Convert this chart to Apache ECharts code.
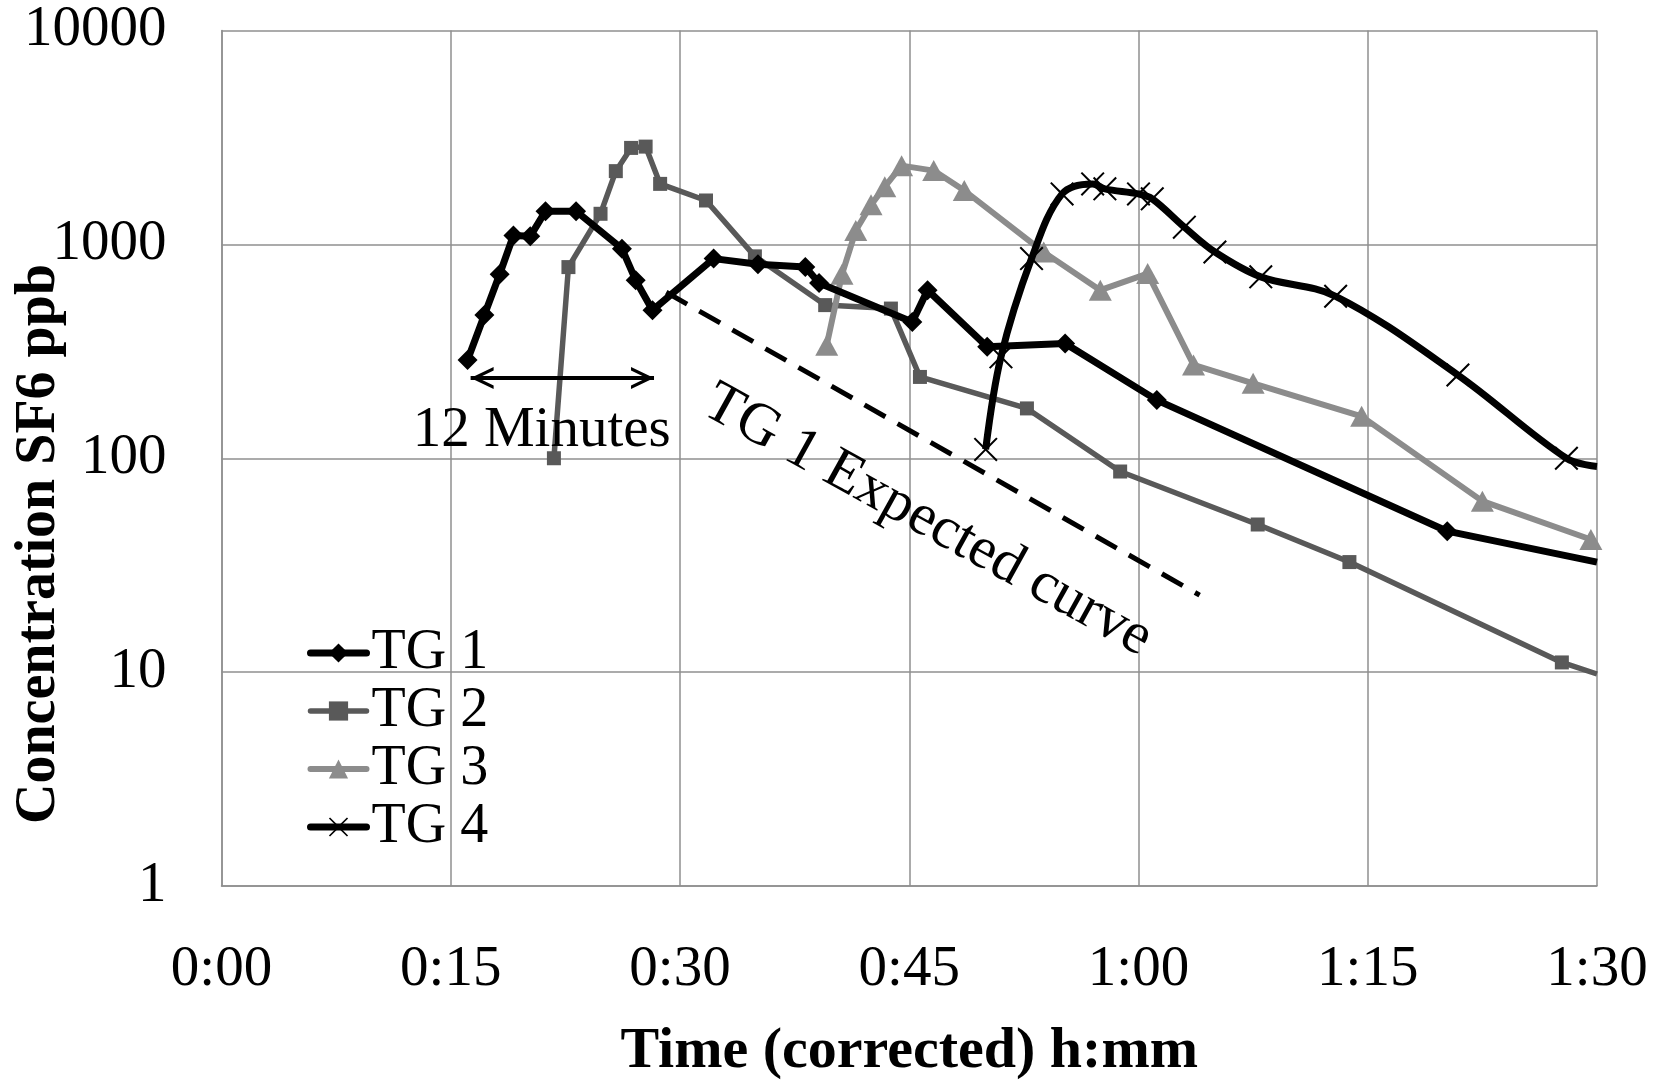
<!DOCTYPE html>
<html>
<head>
<meta charset="utf-8">
<title>SF6 tracer gas concentration</title>
<script src="https://cdn.jsdelivr.net/npm/echarts@6/dist/echarts.min.js"></script>
<style>
  html, body { margin: 0; padding: 0; background: #fff; }
  #chart { width: 1662px; height: 1082px; }
</style>
</head>
<body>
<div id="chart"></div>
<script>
// time in minutes after release, concentration in ppb
var tg1Time = [16.1, 17.2, 18.2, 19.1, 20.2, 21.2, 23.2, 26.2, 27.1, 28.2, 32.2, 35.1, 38.2, 39.1, 45.2, 46.2, 50.1, 55.2, 61.2, 80.2, 90];
var tg1Ppb  = [288, 467, 725, 1100, 1090, 1430, 1430, 955, 680, 492, 858, 807, 784, 660, 434, 611, 332, 344, 187, 45.6, 32.7];

var tg2Time = [21.75, 22.7, 24.8, 25.8, 26.8, 27.75, 28.7, 31.7, 34.9, 39.5, 43.8, 45.7, 52.7, 58.8, 67.8, 73.8, 87.7, 90];
var tg2Ppb  = [100, 783, 1390, 2200, 2825, 2865, 1918, 1604, 879, 520, 501, 240, 171, 86.7, 49, 32.7, 11.1, 9.8];

var tg3Time = [39.6, 40.6, 41.5, 42.5, 43.4, 44.5, 46.6, 48.6, 53.8, 57.5, 60.6, 63.6, 67.5, 74.6, 82.5, 89.6];
var tg3Ppb  = [338, 725, 1160, 1530, 1860, 2334, 2213, 1786, 920, 611, 730, 273, 224, 157, 63, 41.7];

var tg4Time = [50, 51, 53, 55, 57, 57.8, 60, 60.9, 63, 65, 68, 72.9, 80.9, 88, 90];
var tg4Ppb  = [110, 298, 858, 1722, 1918, 1818, 1722, 1633, 1204, 921, 705, 572, 245, 100, 91.6];

// TG 1 expected decay (dashed)
var expTime = [29.1, 64];
var expPpb  = [597, 22.9];

// "12 Minutes" arrow
var arrowTime = [16.3, 28.3];
var arrowPpb  = [237, 237];

// annotation anchors [minutes, ppb]
var minutesNote = [20.95, 134];
var expectedNote = [46.2, 51];

var yTicks = [1, 10, 100, 1000, 10000];

var FONT = '"Liberation Serif", "Times New Roman", serif';
var X_MAX = 90;

function pairs(t, v) {
    return t.map(function (x, i) {
        var item = { value: [x, v[i]] };
        if (x >= X_MAX) item.symbol = 'none';   // line runs off the plot edge
        return item;
    });
}

function hmm(v) {
    var m = v % 60;
    return Math.floor(v / 60) + ':' + (m < 10 ? '0' : '') + m;
}

var crossPath = 'path://M0,6L6,0L50,44L94,0L100,6L56,50L100,94L94,100L50,56L6,100L0,94L44,50Z';
var headRight = 'path://M0,0L23,11L0,22L0,18.5L15.5,11L0,3.5Z';
var headLeft  = 'path://M23,0L0,11L23,22L23,18.5L7.5,11L23,3.5Z';

var chart = echarts.init(document.getElementById('chart'));

var option = {
    animation: false,
    backgroundColor: '#fff',
    textStyle: { fontFamily: FONT },
    grid: { left: 221.5, right: 65, top: 30.5, bottom: 196, outerBoundsMode: 'none', containLabel: false },
    legend: {
        data: ['TG 1', 'TG 2', 'TG 3', 'TG 4'],
        orient: 'vertical',
        left: 307,
        top: 625,
        padding: 0,
        itemGap: 2,
        itemWidth: 56,
        itemHeight: 24,
        lineStyle: { width: 'inherit', cap: 'round' },
        textStyle: { fontFamily: FONT, fontSize: 56, color: '#000', lineHeight: 50 }
    },
    xAxis: {
        type: 'value',
        min: 0,
        max: X_MAX,
        interval: 15,
        name: 'Time (corrected) h:mm',
        nameLocation: 'middle',
        nameGap: 137,
        nameTextStyle: { fontFamily: FONT, fontSize: 58, fontWeight: 'bold', color: '#000' },
        axisLine: { lineStyle: { color: '#8f8f8f', width: 1.5 } },
        axisTick: { show: false },
        axisLabel: { fontFamily: FONT, fontSize: 57, color: '#000', margin: 56, formatter: hmm },
        splitLine: { lineStyle: { color: '#8f8f8f', width: 1.5 } }
    },
    yAxis: {
        type: 'log',
        logBase: 10,
        min: yTicks[0],
        max: yTicks[yTicks.length - 1],
        axisLine: { show: true, lineStyle: { color: '#8f8f8f', width: 1.5 } },
        axisTick: { show: false },
        axisLabel: {
            fontFamily: FONT, fontSize: 57, color: '#000', margin: 55,
            formatter: function (v) { return String(v); }
        },
        splitLine: { lineStyle: { color: '#8f8f8f', width: 1.5 } }
    },
    series: [
        {
            name: 'TG 1 expected',
            type: 'line',
            data: pairs(expTime, expPpb),
            symbol: 'none',
            lineStyle: { color: '#000', width: 5, type: [24, 14] },
            z: 1
        },
        {
            name: 'TG 2',
            type: 'line',
            data: pairs(tg2Time, tg2Ppb),
            symbol: 'rect',
            symbolSize: 14,
            lineStyle: { color: '#595959', width: 5.5 },
            itemStyle: { color: '#595959' },
            z: 2
        },
        {
            name: 'TG 3',
            type: 'line',
            data: pairs(tg3Time, tg3Ppb),
            symbol: 'triangle',
            symbolSize: [23, 21],
            lineStyle: { color: '#8c8c8c', width: 6 },
            itemStyle: { color: '#8c8c8c' },
            z: 3
        },
        {
            name: 'TG 4',
            type: 'line',
            data: pairs(tg4Time, tg4Ppb),
            smooth: 0.35,
            symbol: crossPath,
            symbolSize: 24,
            lineStyle: { color: '#000', width: 7 },
            itemStyle: { color: '#000' },
            z: 4
        },
        {
            name: 'TG 1',
            type: 'line',
            data: pairs(tg1Time, tg1Ppb),
            symbol: 'diamond',
            symbolSize: 20,
            lineStyle: { color: '#000', width: 7 },
            itemStyle: { color: '#000' },
            z: 5
        },
        {
            name: '12 Minutes',
            type: 'line',
            data: [
                { value: [arrowTime[0], arrowPpb[0]], symbol: headLeft, symbolOffset: [11.5, 0] },
                { value: [arrowTime[1], arrowPpb[1]], symbol: headRight, symbolOffset: [-11.5, 0] }
            ],
            symbolSize: [23, 22],
            lineStyle: { color: '#000', width: 4 },
            itemStyle: { color: '#000' },
            z: 6
        }
    ]
};

chart.setOption(option);

var pMin = chart.convertToPixel({ gridIndex: 0 }, minutesNote);
var pExp = chart.convertToPixel({ gridIndex: 0 }, expectedNote);

chart.setOption({
    graphic: [
        {
            type: 'text',
            x: 40, y: 544,
            rotation: Math.PI / 2,
            style: {
                text: 'Concentration SF6 ppb',
                font: 'bold 56px ' + FONT,
                fill: '#000',
                align: 'center',
                verticalAlign: 'middle'
            }
        },
        {
            type: 'text',
            x: pMin[0], y: pMin[1],
            style: {
                text: '12 Minutes',
                font: '57px ' + FONT,
                fill: '#000',
                align: 'center',
                verticalAlign: 'middle'
            },
            z: 10
        },
        {
            type: 'text',
            x: pExp[0], y: pExp[1],
            rotation: -29 * Math.PI / 180,
            style: {
                text: 'TG 1 Expected curve',
                font: '59px ' + FONT,
                fill: '#000',
                align: 'center',
                verticalAlign: 'middle'
            },
            z: 10
        }
    ]
});
</script>
</body>
</html>
